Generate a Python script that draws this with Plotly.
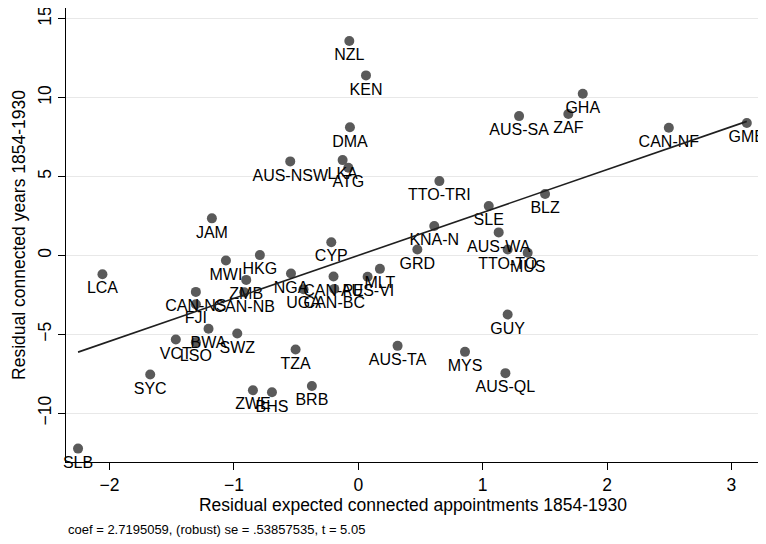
import plotly.graph_objects as go

# added-variable plot: residual connected appointments vs residual connected years
labels = [
    "NZL", "KEN", "DMA", "AUS-NSW", "LKA", "ATG", "JAM", "CYP", "MWI", "HKG",
    "GHA", "AUS-SA", "ZAF", "CAN-NF", "GMB", "TTO-TRI", "SLE", "BLZ", "KNA-N", "AUS-WA",
    "GRD", "TTO-TO", "MUS", "LCA", "ZMB", "NGA", "CAN-PE", "AUS-VI", "MLT", "CAN-BC",
    "UGA", "CAN-NS", "FJI", "CAN-NB", "VCT", "BWA", "LSO", "SWZ", "SYC", "TZA",
    "ZWE", "BHS", "BRB", "SLB", "AUS-TA", "MYS", "AUS-QL", "GUY",
]
x_resid = [
    -0.072, 0.062, -0.067, -0.547, -0.126, -0.080, -1.177, -0.217, -1.064, -0.791,
    1.805, 1.293, 1.689, 2.497, 3.124, 0.652, 1.049, 1.502, 0.611, 1.129,
    0.475, 1.201, 1.362, -2.057, -0.901, -0.541, -0.199, 0.075, 0.174, -0.193,
    -0.440, -1.306, -1.306, -0.917, -1.467, -1.204, -1.306, -0.973, -1.673, -0.504,
    -0.847, -0.694, -0.373, -2.253, 0.316, 0.858, 1.183, 1.201,
]
y_resid = [
    13.59, 11.41, 8.12, 5.96, 6.04, 5.56, 2.35, 0.84, -0.32, 0.02,
    10.25, 8.83, 8.96, 8.09, 8.39, 4.71, 3.13, 3.89, 1.86, 1.46,
    0.38, 0.38, 0.17, -1.19, -1.55, -1.14, -1.33, -1.35, -0.85, -2.12,
    -2.14, -2.31, -3.09, -2.34, -5.33, -4.65, -5.50, -4.95, -7.55, -5.96,
    -8.54, -8.67, -8.27, -12.24, -5.73, -6.11, -7.46, -3.74,
]

coef = 2.7195059
se = 0.53857535
tstat = 5.05

x_fit = [min(x_resid), max(x_resid)]
y_fit = [coef * v for v in x_fit]

FONT = "Liberation Sans, Arial, sans-serif"

fig = go.Figure()
fig.add_trace(go.Scatter(
    x=x_resid, y=y_resid, mode="markers+text", text=labels,
    textposition="bottom center", cliponaxis=False,
    textfont=dict(family=FONT, size=16, color="#000000"),
    marker=dict(size=10, color="#5a5a5a"),
    hoverinfo="text", showlegend=False,
))
fig.add_trace(go.Scatter(
    x=x_fit, y=y_fit, mode="lines",
    line=dict(color="#1f1f1f", width=1.6),
    hoverinfo="skip", showlegend=False,
))

# page body has an 8px margin, so the figure is sized 8px smaller
fig.update_layout(
    width=758, height=536,
    paper_bgcolor="white", plot_bgcolor="white",
    margin=dict(l=58, r=6, t=0, b=82),
    font=dict(family=FONT, color="#000000", size=17),
    xaxis=dict(
        range=[-2.35, 3.23], tickvals=[-2, -1, 0, 1, 2, 3],
        showgrid=False, zeroline=False, automargin=False,
        showline=True, linecolor="#000000", linewidth=1.2,
        ticks="outside", ticklen=7, tickcolor="#000000",
        tickfont=dict(size=17.5),
        title=dict(text="Residual expected connected appointments 1854-1930",
                   font=dict(size=17.5), standoff=4),
    ),
    yaxis=dict(
        range=[-13.09, 15.68], tickvals=[-10, -5, 0, 5, 10, 15],
        showgrid=True, gridcolor="#e8e8e8", gridwidth=1.2, zeroline=False,
        automargin=False, ticklabeloverflow="allow",
        showline=True, linecolor="#000000", linewidth=1.2,
        ticks="outside", ticklen=7, tickcolor="#000000",
        tickangle=-90, tickfont=dict(size=17.5),
        title=dict(text="Residual connected years 1854-1930",
                   font=dict(size=17.5), standoff=4),
    ),
    annotations=[dict(
        text=f"coef = {coef:.7f}, (robust) se = {str(se).lstrip('0')}, t = {tstat:.2f}",
        xref="paper", yref="paper", x=0.0, y=-0.148,
        xanchor="left", yanchor="middle", showarrow=False,
        font=dict(family=FONT, size=13, color="#000000"),
    )],
)

fig.write_html("out.html")
